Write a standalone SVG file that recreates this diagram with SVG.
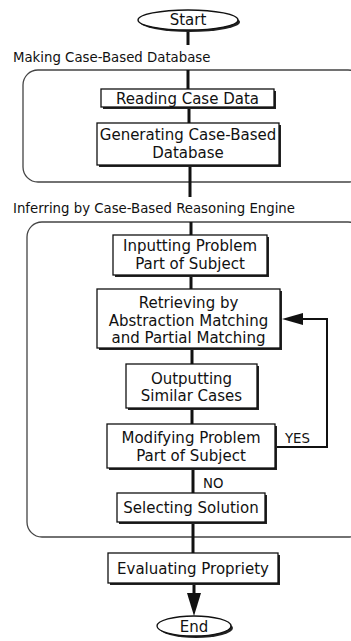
<svg xmlns="http://www.w3.org/2000/svg" width="351" height="641" viewBox="0 0 351 641">
<style>
  .t{font-family:"DejaVu Sans",Verdana,sans-serif;font-size:15px;fill:#111;text-anchor:middle}
  .lbl{font-family:"DejaVu Sans",Verdana,sans-serif;font-size:13.3px;fill:#111}
  .box{fill:#fff;stroke:#111;stroke-width:1.3}
  .sh{fill:#222}
  .grp{fill:none;stroke:#444;stroke-width:1.3}
  .ln{stroke:#111;stroke-width:3;fill:none}
  .lp{stroke:#111;stroke-width:2;fill:none}
</style>

<g id="containers">
  <rect class="grp" x="23" y="70" width="340" height="112" rx="15"/>
  <rect class="grp" x="27" y="222" width="336" height="315" rx="15"/>
</g>

<g id="connectors">
  <line class="ln" x1="188" y1="31" x2="188" y2="45"/>
  <line class="ln" x1="188" y1="70" x2="188" y2="89"/>
  <line class="ln" x1="189" y1="107" x2="189" y2="123"/>
  <line class="ln" x1="190" y1="165" x2="190" y2="197"/>
  <line class="ln" x1="191" y1="222" x2="191" y2="235"/>
  <line class="ln" x1="191" y1="275" x2="191" y2="289"/>
  <line class="ln" x1="192" y1="348" x2="192" y2="364"/>
  <line class="ln" x1="192" y1="408" x2="192" y2="424"/>
  <line class="ln" x1="193" y1="468" x2="193" y2="493"/>
  <line class="ln" x1="193" y1="522" x2="193" y2="553"/>
  <line class="ln" x1="194" y1="583" x2="194" y2="596"/>
  <path d="M187,593 L201,593 L194,616 Z" fill="#111"/>
  <path class="lp" d="M276,447 L327,447 L327,319 L302,319"/>
  <path d="M303,313 L303,325 L282,319 Z" fill="#111"/>
  <text class="lbl" x="285" y="443">YES</text>
  <text class="lbl" x="203" y="488">NO</text>
</g>

<g id="start">
  <ellipse cx="190" cy="22" rx="50" ry="10" class="sh"/>
  <ellipse cx="188" cy="20" rx="50" ry="10" class="box"/>
  <text class="t" x="188" y="25">Start</text>
</g>

<text class="lbl" x="13" y="62">Making Case-Based Database</text>
<text class="lbl" x="13" y="213">Inferring by Case-Based Reasoning Engine</text>

<g id="reading">
  <rect class="sh" x="103" y="91" width="173" height="18"/>
  <rect class="box" x="101" y="89" width="173" height="18"/>
  <text class="t" x="187.5" y="103.5">Reading Case Data</text>
</g>

<g id="generating">
  <rect class="sh" x="99" y="125" width="182" height="42"/>
  <rect class="box" x="97" y="123" width="182" height="42"/>
  <text class="t" x="188" y="139.5">Generating Case-Based</text>
  <text class="t" x="188" y="157.5">Database</text>
</g>

<g id="inputting">
  <rect class="sh" x="115" y="237" width="154" height="40"/>
  <rect class="box" x="113" y="235" width="154" height="40"/>
  <text class="t" x="190" y="250.5">Inputting Problem</text>
  <text class="t" x="190" y="268.5">Part of Subject</text>
</g>

<g id="retrieving">
  <rect class="sh" x="99" y="291" width="183" height="59"/>
  <rect class="box" x="97" y="289" width="183" height="59"/>
  <text class="t" x="188.5" y="307.5">Retrieving by</text>
  <text class="t" x="188.5" y="325.5">Abstraction Matching</text>
  <text class="t" x="188.5" y="342.5">and Partial Matching</text>
</g>

<g id="outputting">
  <rect class="sh" x="128" y="366" width="131" height="44"/>
  <rect class="box" x="126" y="364" width="131" height="44"/>
  <text class="t" x="191.5" y="383.5">Outputting</text>
  <text class="t" x="191.5" y="400.5">Similar Cases</text>
</g>

<g id="modifying">
  <rect class="sh" x="109" y="426" width="168" height="44"/>
  <rect class="box" x="107" y="424" width="168" height="44"/>
  <text class="t" x="191" y="442.5">Modifying Problem</text>
  <text class="t" x="191" y="460.5">Part of Subject</text>
</g>

<g id="selecting">
  <rect class="sh" x="119" y="495" width="148" height="29"/>
  <rect class="box" x="117" y="493" width="148" height="29"/>
  <text class="t" x="191" y="512.5">Selecting Solution</text>
</g>

<g id="evaluating">
  <rect class="sh" x="110" y="555" width="170" height="30"/>
  <rect class="box" x="108" y="553" width="170" height="30"/>
  <text class="t" x="193" y="573.5">Evaluating Propriety</text>
</g>

<g id="end">
  <ellipse cx="196" cy="628" rx="37" ry="10" class="sh"/>
  <ellipse cx="194" cy="626" rx="37" ry="10" class="box"/>
  <text class="t" x="194" y="631.5">End</text>
</g>
</svg>
